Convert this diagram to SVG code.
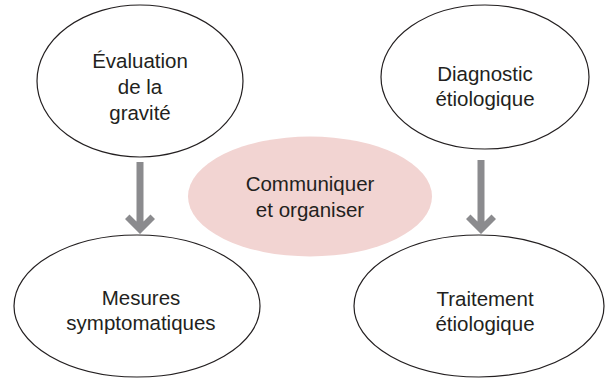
<svg xmlns="http://www.w3.org/2000/svg" width="608" height="382" viewBox="0 0 608 382">
<style>
.node{fill:#ffffff;stroke:#231f20;stroke-width:1.2}
.hub{fill:#f2d4d2;stroke:none}
.lbl{font-family:"Liberation Sans",Arial,Helvetica,sans-serif;font-size:20.5px;fill:#231f20;text-anchor:middle}
.arrow{fill:#8b8b8e;stroke:none}
</style>
<rect width="608" height="382" fill="#ffffff"/>
<g id="communiquer">
<ellipse class="hub" cx="310" cy="196.5" rx="122" ry="60"/>
<text class="lbl" x="310" y="191">Communiquer</text>
<text class="lbl" x="310" y="217">et organiser</text>
</g>
<g id="evaluation">
<ellipse class="node" cx="140" cy="81" rx="103" ry="76"/>
<text class="lbl" x="140" y="68">Évaluation</text>
<text class="lbl" x="140" y="94">de la</text>
<text class="lbl" x="140" y="120">gravité</text>
</g>
<g id="diagnostic">
<ellipse class="node" cx="485" cy="77" rx="104" ry="72"/>
<text class="lbl" x="485" y="81">Diagnostic</text>
<text class="lbl" x="485" y="106">étiologique</text>
</g>
<g id="mesures">
<ellipse class="node" cx="137" cy="306" rx="123" ry="71"/>
<text class="lbl" x="141" y="305">Mesures</text>
<text class="lbl" x="141" y="330">symptomatiques</text>
</g>
<g id="traitement">
<ellipse class="node" cx="479" cy="306" rx="125" ry="71"/>
<text class="lbl" x="485" y="306">Traitement</text>
<text class="lbl" x="485" y="331">étiologique</text>
</g>
<g id="connectors">
<polygon class="arrow" points="140,234 125,219 129.5,214.5 136.5,221.5 136.5,162 143.5,162 143.5,221.5 150.5,214.5 155,219"/>
<polygon class="arrow" points="481,234 466,219 470.5,214.5 477.5,221.5 477.5,160 484.5,160 484.5,221.5 491.5,214.5 496,219"/>
</g>
</svg>
